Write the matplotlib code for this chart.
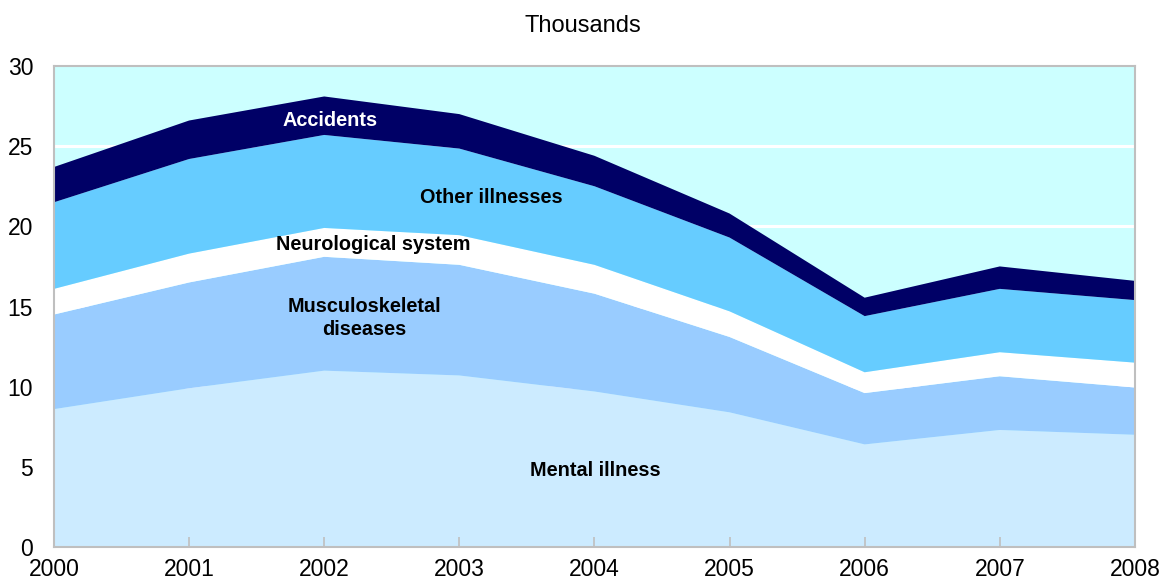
import numpy as np
import matplotlib.pyplot as plt

plt.rcParams['font.family'] = ['Liberation Sans', 'DejaVu Sans']

# Data (thousands)
years = [2000, 2001, 2002, 2003, 2004, 2005, 2006, 2007, 2008]
mental = [8.6, 9.9, 11.0, 10.7, 9.7, 8.4, 6.4, 7.3, 7.0]
musculo = [5.9, 6.6, 7.1, 6.9, 6.1, 4.7, 3.2, 3.35, 2.95]
neuro = [1.6, 1.8, 1.8, 1.85, 1.8, 1.6, 1.3, 1.5, 1.55]
other = [5.4, 5.9, 5.8, 5.4, 4.9, 4.6, 3.5, 3.95, 3.9]
accidents = [2.2, 2.4, 2.4, 2.15, 1.9, 1.5, 1.15, 1.4, 1.2]

colors = ['#CCEBFF', '#99CCFF', '#FFFFFF', '#66CCFF', '#000066']

fig = plt.figure(figsize=(11.61, 5.82), dpi=100)
ax = fig.add_axes([0.0465, 0.0601, 0.931, 0.8265])
ax.set_facecolor('#CCFFFF')

# white gridlines behind the areas
for yv in [5, 10, 15, 20, 25]:
    ax.axhline(yv, color='white', lw=2.2, zorder=0.5)

ax.stackplot(years, mental, musculo, neuro, other, accidents,
             colors=colors, linewidth=0, zorder=1)

ax.set_xlim(2000, 2008)
ax.set_ylim(0, 30)
ax.set_xticks(years)
ax.set_yticks([0, 5, 10, 15, 20, 25, 30])
ax.tick_params(axis='x', direction='in', length=7, width=1.2, color='#BFBFBF',
               labelsize=16.5, pad=8)
ax.tick_params(axis='y', length=0, labelsize=16.5, pad=15)
for s in ax.spines.values():
    s.set_color('#BFBFBF')
    s.set_linewidth(1.5)
    s.set_zorder(3)

# series labels
lbl = dict(fontsize=14.3, fontweight='bold', ha='center', va='center')
ax.text(2002.04, 26.6, 'Accidents', color='white', **lbl)
ax.text(2003.24, 21.8, 'Other illnesses', color='black', **lbl)
ax.text(2002.36, 18.85, 'Neurological system', color='black', **lbl)
ax.text(2002.3, 14.3, 'Musculoskeletal\ndiseases', color='black', linespacing=1.25, **lbl)
ax.text(2004.01, 4.8, 'Mental illness', color='black', **lbl)

fig.text(0.502, 0.955, 'Thousands', ha='center', va='center', fontsize=17)

fig.savefig('out.png', dpi=100)
